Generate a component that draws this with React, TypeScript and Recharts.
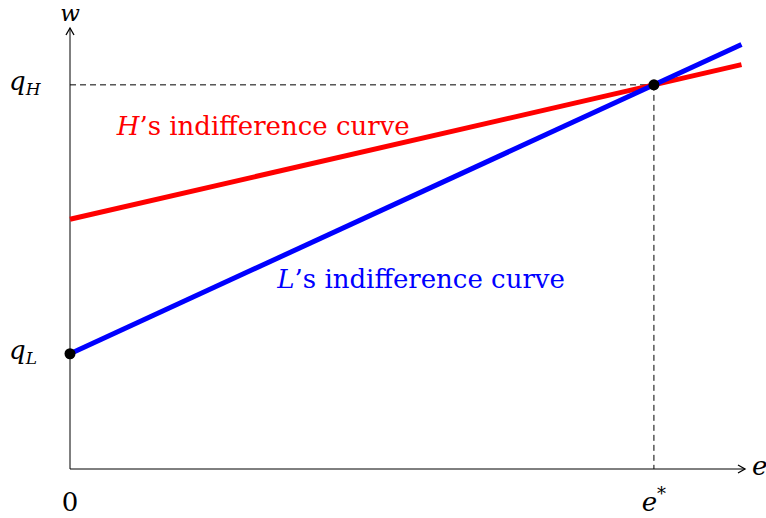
import React from "react";
import {
  ComposedChart,
  Line,
  Scatter,
  XAxis,
  YAxis,
  ReferenceLine,
  ReferenceDot,
} from "recharts";

// data (e on x, w on y)
const eStar = 1;
const qH = 1;
const qL = 0.3;
const hIntercept = 0.65;
const eMax = 1.15;
const xTicks = [0, eStar];
const xTickLabels = ["0", "e*"];
const yTicks = [qL, qH];
const yTickLabels = ["L", "H"];

const hCurve = [
  { e: 0, w: hIntercept },
  { e: eMax, w: 1.0525 },
];
const lCurve = [
  { e: 0, w: qL },
  { e: eMax, w: 1.105 },
];
const points = [
  { e: eStar, w: qH },
  { e: 0, w: qL },
];

const FONT = "'DejaVu Serif', serif";
const FS = 26;

const XTick = (props: any) => {
  const { x, payload } = props;
  const label = xTickLabels[xTicks.indexOf(payload.value)];
  if (label === "e*") {
    return (
      <text x={x} y={511} textAnchor="middle" fontFamily={FONT} fontSize={FS} fill="#000">
        <tspan fontStyle="italic">e</tspan>
        <tspan fontSize={18} dy={-11}>*</tspan>
      </text>
    );
  }
  return (
    <text x={x} y={511} textAnchor="middle" fontFamily={FONT} fontSize={FS} fill="#000">
      {label}
    </text>
  );
};

const YTick = (props: any) => {
  const { y, payload } = props;
  const sub = yTickLabels[yTicks.indexOf(payload.value)];
  return (
    <text x={9} y={y + 5} fontFamily={FONT} fontSize={FS} fill="#000">
      <tspan fontStyle="italic">q</tspan>
      <tspan fontStyle="italic" fontSize={17} dy={5}>{sub}</tspan>
    </text>
  );
};

const arrowRight = (props: any) => (
  <path
    d={`M${props.cx - 7},${props.cy - 4} L${props.cx},${props.cy} L${props.cx - 7},${props.cy + 4}`}
    fill="none"
    stroke="#000"
    strokeWidth={1.3}
  />
);
const arrowUp = (props: any) => (
  <path
    d={`M${props.cx - 4},${props.cy + 7} L${props.cx},${props.cy} L${props.cx + 4},${props.cy + 7}`}
    fill="none"
    stroke="#000"
    strokeWidth={1.3}
  />
);

const textAt = (content: React.ReactNode, color: string, anchor: string = "start", size: number = FS) => (props: any) => (
  <text x={props.cx} y={props.cy} textAnchor={anchor} fontFamily={FONT} fontSize={size} fill={color}>
    {content}
  </text>
);

const dotShape = (props: any) => <circle cx={props.cx} cy={props.cy} r={5.5} fill="#000" />;

export default function App() {
  return (
    <div style={{ position: "fixed", top: 0, left: 0, background: "#fff", width: 766, height: 518 }}>
      <ComposedChart
        width={766}
        height={518}
        margin={{ top: 28, right: 21, bottom: 0, left: 0 }}
        style={{ overflow: "visible" }}
      >
        <XAxis
          type="number"
          dataKey="e"
          domain={[0, 1.156]}
          ticks={xTicks}
          tick={<XTick />}
          axisLine={false}
          tickLine={false}
          height={49}
        />
        <YAxis
          type="number"
          dataKey="w"
          domain={[0, 1.148]}
          ticks={yTicks}
          tick={<YTick />}
          axisLine={false}
          tickLine={false}
          width={70}
        />
        <ReferenceLine segment={[{ x: 0, y: 0 }, { x: 1.156, y: 0 }]} stroke="#000" strokeWidth={1} ifOverflow="visible" />
        <ReferenceLine segment={[{ x: 0, y: 0 }, { x: 0, y: 1.148 }]} stroke="#000" strokeWidth={1} ifOverflow="visible" />
        <ReferenceLine segment={[{ x: 0, y: qH }, { x: eStar, y: qH }]} stroke="#000" strokeDasharray="6 4" ifOverflow="visible" />
        <ReferenceLine segment={[{ x: eStar, y: qH }, { x: eStar, y: 0 }]} stroke="#000" strokeDasharray="6 4" ifOverflow="visible" />
        <ReferenceDot x={1.156} y={0} shape={arrowRight} ifOverflow="visible" />
        <ReferenceDot x={0} y={1.148} shape={arrowUp} ifOverflow="visible" />
        <Line data={hCurve} dataKey="w" type="linear" stroke="#ff0000" strokeWidth={5} dot={false} isAnimationActive={false} />
        <Line data={lCurve} dataKey="w" type="linear" stroke="#0000ff" strokeWidth={5} dot={false} isAnimationActive={false} />
        <Scatter data={points} dataKey="w" shape={dotShape} isAnimationActive={false} />
        <ReferenceDot
          x={0.08}
          y={0.87}
          ifOverflow="visible"
          shape={textAt(
            <>
              <tspan fontStyle="italic">H</tspan>
              <tspan>’s indifference curve</tspan>
            </>,
            "#ff0000"
          )}
        />
        <ReferenceDot
          x={0.355}
          y={0.47}
          ifOverflow="visible"
          shape={textAt(
            <>
              <tspan fontStyle="italic">L</tspan>
              <tspan>’s indifference curve</tspan>
            </>,
            "#0000ff"
          )}
        />
        <ReferenceDot x={0} y={1.167} ifOverflow="visible" shape={textAt(<tspan fontStyle="italic">w</tspan>, "#000", "middle", 23)} />
        <ReferenceDot x={1.168} y={-0.015} ifOverflow="visible" shape={textAt(<tspan fontStyle="italic">e</tspan>, "#000")} />
      </ComposedChart>
    </div>
  );
}
